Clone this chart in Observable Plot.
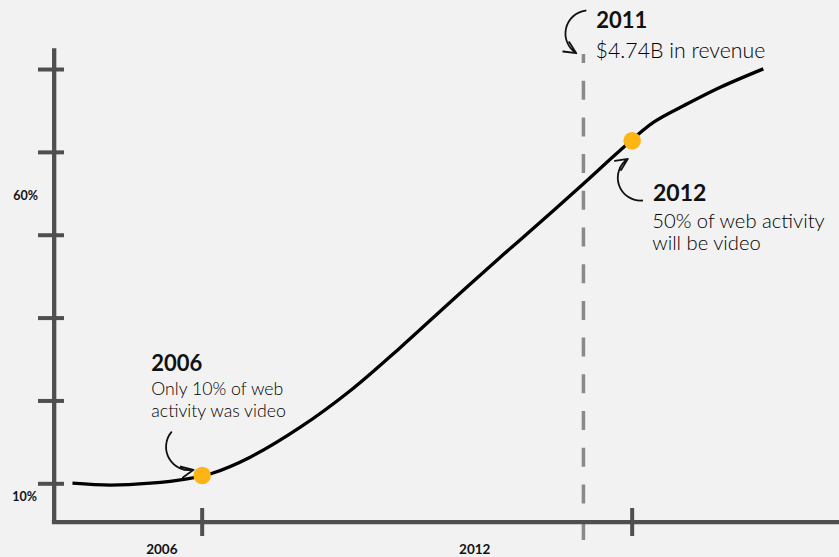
<!DOCTYPE html>
<html>
<head>
<meta charset="utf-8">
<script src="https://cdn.jsdelivr.net/npm/d3@7"></script>
<script src="https://cdn.jsdelivr.net/npm/@observablehq/plot@0.6"></script>
<style>
  html, body { margin: 0; padding: 0; background: #f2f2f2; }
  #chart svg { display: block; }
</style>
</head>
<body>
<div id="chart"></div>
<script>
// Share of web activity that is video (%)
const years = [2004.19, 2004.72, 2005.28, 2005.79, 2006.12, 2006.67, 2007.37, 2008.07, 2008.77, 2009.46, 2010.16, 2010.44, 2011.32, 2011.83, 2012.30, 2012.77, 2013.23, 2013.83];
const videoShare = [10.07, 9.83, 10.07, 10.60, 11.21, 13.21, 16.83, 21.26, 26.49, 31.92, 37.35, 39.45, 46.21, 50.22, 53.64, 55.86, 57.86, 60.08];

// Highlighted milestones
const highlightYears = [2006, 2012];
const highlightShare = [11.0, 51.4];
const revenueYear = [2011.32];

// Axis ticks and labels
const yTicks = [10, 20, 30, 40, 50, 60];
const xTicks = [2006, 2012];
const yTickLabels = ["10%", "60%"];
const xTickLabels = ["2006", "2012"];

// Annotation texts
const noteTitles = ["2011", "2012", "2006"];
const noteBodies = ["$4.74B in revenue", "50% of web activity\nwill be video", "Only 10% of web\nactivity was video"];

const curve = years.map((y, i) => ({year: y, share: videoShare[i]}));
const highlights = highlightYears.map((y, i) => ({year: y, share: highlightShare[i]}));

const axisColor = "#4f4f4f";
const font = "Lato, 'Open Sans', sans-serif";
const xAxisAt = 5.366;   // value where x axis sits
const yAxisAt = 2003.935; // year where y axis sits

const chart = Plot.plot({
  width: 839,
  height: 557,
  margin: 0,
  style: {background: "#f2f2f2", overflow: "visible"},
  x: {domain: [2003.186, 2014.893], axis: null},
  y: {domain: [1.105, 68.33], axis: null},
  marks: [
    // dashed 2011 marker
    Plot.ruleX(revenueYear, {x: d => d, y1: 61.81, y2: 2.92, stroke: "#8a8a8a", strokeWidth: 3.5, strokeDasharray: "19,17.7", strokeDashoffset: 10}),
    // axes
    Plot.ruleX([yAxisAt], {x: d => d, y1: 62.5, y2: 5.1, stroke: axisColor, strokeWidth: 4.3}),
    Plot.ruleY([xAxisAt], {y: d => d, x1: 2003.91, x2: 2014.893, stroke: axisColor, strokeWidth: 4.3}),
    Plot.ruleY(yTicks, {y: d => d, x1: yAxisAt, x2: yAxisAt, insetLeft: -15.7, insetRight: -10.3, stroke: axisColor, strokeWidth: 4}),
    Plot.ruleX(xTicks, {x: d => d, y1: xAxisAt, y2: xAxisAt, insetTop: -13.7, insetBottom: -14.3, stroke: axisColor, strokeWidth: 4}),
    // tick labels
    Plot.text(yTickLabels, {text: d => d, x: [2003.521, 2003.538], y: [7.98, 44.31], textAnchor: "middle", lineAnchor: "bottom", fontSize: 12.5, fontWeight: 700, fontFamily: font, fill: "#111"}),
    Plot.text(xTickLabels, {text: d => d, x: [2005.437, 2009.803], y: [1.5, 1.5], textAnchor: "middle", lineAnchor: "bottom", fontSize: 13.5, fontWeight: 700, fontFamily: font, fill: "#111"}),
    // the curve
    Plot.line(curve, {x: "year", y: "share", curve: "catmull-rom", stroke: "#000", strokeWidth: 3.3, strokeLinecap: "butt"}),
    // milestone dots
    Plot.dot(highlights, {x: "year", y: "share", r: 8.8, fill: "#fdb515", stroke: "none"}),
    // arrows
    Plot.arrow([0], {x1: 2005.57, y1: 16.23, x2: 2005.88, y2: 11.69, bend: -70, stroke: "#111", strokeWidth: 1.8, headLength: 11, headAngle: 50}),
    Plot.arrow([0], {x1: 2011.35, y1: 67.12, x2: 2011.22, y2: 61.97, bend: -70, stroke: "#111", strokeWidth: 1.8, headLength: 11, headAngle: 50}),
    Plot.arrow([0], {x1: 2012.14, y1: 44.19, x2: 2011.94, y2: 49.22, bend: 75, stroke: "#111", strokeWidth: 1.8, headLength: 11, headAngle: 50}),
    // annotation titles
    Plot.text([noteTitles[0]], {text: d => d, x: 2011.50, y: 65.03, textAnchor: "start", lineAnchor: "bottom", fontSize: 22, fontWeight: 700, fontFamily: font, fill: "#111"}),
    Plot.text([noteTitles[1]], {text: d => d, x: 2012.29, y: 44.19, textAnchor: "start", lineAnchor: "bottom", fontSize: 23, fontWeight: 700, fontFamily: font, fill: "#111"}),
    Plot.text([noteTitles[2]], {text: d => d, x: 2005.29, y: 23.59, textAnchor: "start", lineAnchor: "bottom", fontSize: 22, fontWeight: 700, fontFamily: font, fill: "#111"}),
    // annotation bodies
    Plot.text([noteBodies[0]], {text: d => d, x: 2011.49, y: 61.45, textAnchor: "start", lineAnchor: "bottom", fontSize: 21.3, fontWeight: 300, fontFamily: font, fill: "#000"}),
    Plot.text([noteBodies[1]], {text: d => d, x: 2012.28, y: 38.24, textAnchor: "start", lineAnchor: "bottom", lineHeight: 1.1, fontSize: 20.2, fontWeight: 300, fontFamily: font, fill: "#000"}),
    Plot.text([noteBodies[2]], {text: d => d, x: 2005.29, y: 18.04, textAnchor: "start", lineAnchor: "bottom", lineHeight: 1.23, fontSize: 17.7, fontWeight: 300, fontFamily: font, fill: "#000"})
  ]
});
document.getElementById("chart").append(chart);
</script>
</body>
</html>
